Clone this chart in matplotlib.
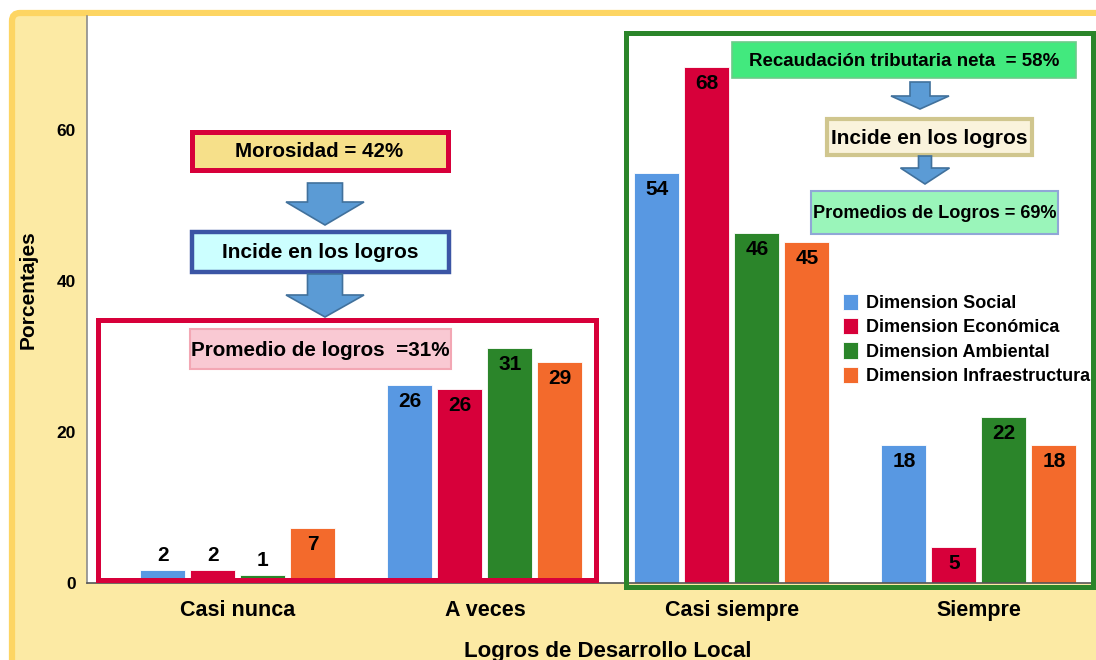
import numpy as np
import matplotlib
matplotlib.use('Agg')
import matplotlib.pyplot as plt
from matplotlib.patches import Rectangle, Polygon, FancyBboxPatch

plt.rcParams['font.family'] = ['Liberation Sans', 'DejaVu Sans']
plt.rcParams['font.weight'] = 'bold'

# ---- data ----
categories = ['Casi nunca', 'A veces', 'Casi siempre', 'Siempre']
seriesNames = ['Dimension Social', 'Dimension Económica',
               'Dimension Ambiental', 'Dimension Infraestructura']
social = [1.7, 26.2, 54.3, 18.3]
economica = [1.7, 25.7, 68.3, 4.8]
ambiental = [1.0, 31.1, 46.4, 22.0]
infra = [7.3, 29.3, 45.2, 18.3]
seriesColors = ['#5898E2', '#D7003A', '#2B852A', '#F36A2C']
yTicks = [0, 20, 40, 60]

W, H = 1096, 660
fig = plt.figure(figsize=(W / 100, H / 100), dpi=100, facecolor='white')

# background frame (pixel coordinates)
bg = fig.add_axes([0, 0, 1, 1], zorder=0)
bg.set_xlim(0, W)
bg.set_ylim(H, 0)
bg.axis('off')
bg.add_patch(FancyBboxPatch((12, 13), W + 40, H + 40, boxstyle='round,pad=0,rounding_size=8',
                            facecolor='#FCEAA4', edgecolor='#FDD563', linewidth=4.5))

# main axes
left, top, bottom = 87, 16, 583
ax = fig.add_axes([left / W, (H - bottom) / H, (W - left) / W, (bottom - top) / H], zorder=1)
ax.set_facecolor('white')

x = np.arange(len(categories))
step = 0.2024
width = 0.182
allSeries = [social, economica, ambiental, infra]
for i, (vals, name, col) in enumerate(zip(allSeries, seriesNames, seriesColors)):
    pos = x + (i - 1.5) * step
    ax.bar(pos, vals, width, color=col, label=name, edgecolor='white', linewidth=0.6, zorder=2)
    for px, v in zip(pos, vals):
        if v >= 4:
            ax.annotate('%d' % round(v), (px, v), xytext=(0, -5), textcoords='offset points',
                        ha='center', va='top', fontsize=15, fontweight='bold', color='black', zorder=3)
        else:
            ax.annotate('%d' % round(v), (px, v), xytext=(0, 4), textcoords='offset points',
                        ha='center', va='bottom', fontsize=15, fontweight='bold', color='black', zorder=3)

ax.set_xlim(-0.611, 3.474)
ax.set_ylim(0, 75.1)
ax.set_xticks(x)
ax.set_xticklabels(categories, fontsize=15.5, fontweight='bold')
ax.set_yticks(yTicks)
ax.set_yticklabels([str(t) for t in yTicks], fontsize=12.5, fontweight='bold')
ax.tick_params(axis='both', length=0)
ax.tick_params(axis='x', pad=12)
ax.tick_params(axis='y', pad=8)
for s in ['top', 'right']:
    ax.spines[s].set_visible(False)
ax.spines['left'].set_color('#8C8C8C')
ax.spines['bottom'].set_color('#555555')
ax.spines['left'].set_linewidth(1.2)
ax.spines['bottom'].set_linewidth(1.2)
ax.set_ylabel('Porcentajes', fontsize=15, fontweight='bold')
ax.yaxis.label.set_va('center')
ax.yaxis.set_label_coords((28 - left) / (W - left), (bottom - 290) / (bottom - top))
ax.set_xlabel('Logros de Desarrollo Local', fontsize=16, fontweight='bold')
ax.xaxis.set_label_coords((608 - left) / (W - left), (bottom - 641) / (bottom - top))

ax.legend(loc='upper left', bbox_to_anchor=(843 / W, 1 - 294 / H), bbox_transform=fig.transFigure,
          frameon=False, handlelength=0.85, handleheight=1.0, handletextpad=0.4,
          labelspacing=0.33, borderpad=0, borderaxespad=0, prop={'weight': 'bold', 'size': 13})

# overlay for annotation boxes and arrows (pixel coordinates)
ov = fig.add_axes([0, 0, 1, 1], zorder=5)
ov.set_xlim(0, W)
ov.set_ylim(H, 0)
ov.axis('off')
ov.patch.set_alpha(0)

def box(x0, y0, x1, y1, face, edge, lw, text=None, size=13.5):
    ov.add_patch(Rectangle((x0, y0), x1 - x0, y1 - y0, facecolor=face, edgecolor=edge, linewidth=lw))
    if text:
        ov.text((x0 + x1) / 2, (y0 + y1) / 2 + 1, text, ha='center', va='center',
                fontsize=size, fontweight='bold', color='black')

def downArrow(cx, y0, yHead, yTip, shaftW, headW):
    pts = [(cx - shaftW / 2, y0), (cx + shaftW / 2, y0), (cx + shaftW / 2, yHead),
           (cx + headW / 2, yHead), (cx, yTip), (cx - headW / 2, yHead), (cx - shaftW / 2, yHead)]
    ov.add_patch(Polygon(pts, closed=True, facecolor='#5B9BD5', edgecolor='#41719C', linewidth=1.2))

# left side: morosidad
box(98, 320, 596, 580, 'none', '#D7003A', 3.6)
box(191.5, 131.5, 447.5, 169.5, '#F6E08A', '#D7003A', 3.6, 'Morosidad = 42%', 14.8)
downArrow(325, 183, 202, 225, 35, 78)
box(192, 232, 449, 272, '#CCFFFF', '#3B55A5', 3.2, 'Incide en los logros', 15)
downArrow(325, 274, 295, 317, 35, 78)
box(190, 329, 451, 369, '#F9C9D3', '#F3A7B4', 1.5, 'Promedio de logros  =31%', 14.9)

# right side: recaudacion
box(625.5, 32.5, 1092.5, 587, 'none', '#2B852A', 3.6)
box(732, 42, 1076, 78, '#42E97E', '#6DCB8A', 1.2, 'Recaudación tributaria neta  = 58%', 13.5)
downArrow(920, 82, 96, 109, 20, 58)
box(827, 119, 1032, 155, '#FAF3DC', '#D0C68E', 3.0, 'Incide en los logros', 15)
downArrow(925, 156, 168, 184, 13, 49)
box(811, 191, 1058, 234, '#9AF5BA', '#90A7D6', 1.5, 'Promedios de Logros = 69%', 13.1)

plt.savefig('out.png', dpi=100, facecolor=fig.get_facecolor())
